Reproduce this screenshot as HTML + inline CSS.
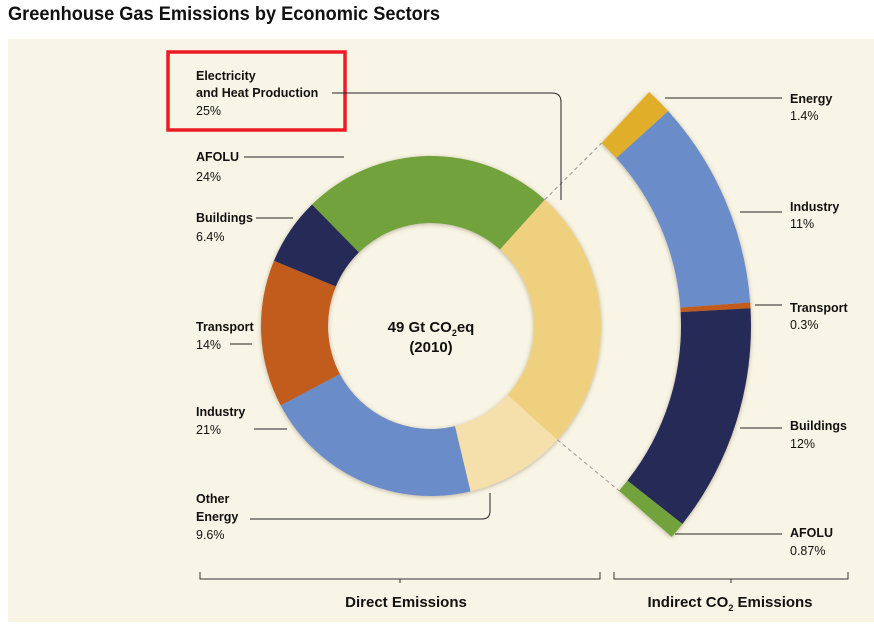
<!DOCTYPE html>
<html><head><meta charset="utf-8">
<style>
html,body{margin:0;padding:0;background:#fff;}
body{width:874px;height:622px;overflow:hidden;font-family:"Liberation Sans",sans-serif;}
svg text{font-family:"Liberation Sans",sans-serif;fill:#111;}
.lb{font-size:12.5px;font-weight:bold;}
.pc{font-size:12.5px;}
</style></head>
<body>
<svg id="chart" width="874" height="622" viewBox="0 0 874 622" xmlns="http://www.w3.org/2000/svg">
<defs>
<filter id="sh" x="-10%" y="-10%" width="120%" height="120%"><feDropShadow dx="0" dy="1" stdDeviation="2.5" flood-color="#6b5a3a" flood-opacity="0.45"/></filter>
</defs>
<text x="8" y="20" textLength="432" lengthAdjust="spacingAndGlyphs" style="font-size:19px;font-weight:bold;">Greenhouse Gas Emissions by Economic Sectors</text>
<rect x="8" y="39" width="866" height="583" fill="#f9f5e6"/>
<rect x="168" y="52" width="177" height="78" fill="none" stroke="#ed1c24" stroke-width="3.5"/>
<g id="donut" filter="url(#sh)"></g>
<g id="arc" filter="url(#sh)"></g>
<g id="labels" stroke="#222" stroke-width="1" fill="none"></g>
<text x="431" y="332" text-anchor="middle" style="font-size:15px;font-weight:bold;">49 Gt CO<tspan dy="4" style="font-size:9px">2</tspan><tspan dy="-4">eq</tspan></text>
<text x="431" y="352" text-anchor="middle" style="font-size:15px;font-weight:bold;">(2010)</text>
<g stroke="#333" fill="none" stroke-width="1">
<path d="M200 572 V579 H600 V572 M400 579 V583"/>
</g>
<g stroke="#333" fill="none" stroke-width="1">
<path d="M614 572 V579 H848 V572 M731 579 V583"/>
</g>
<text x="406" y="607" text-anchor="middle" style="font-size:15px;font-weight:bold;">Direct Emissions</text>
<text x="730" y="607" text-anchor="middle" style="font-size:15px;font-weight:bold;">Indirect CO<tspan dy="4" style="font-size:9px">2</tspan><tspan dy="-4"> Emissions</tspan></text>
</svg>
<script>
const directNames=["Electricity and Heat Production","Other Energy","Industry","Transport","Buildings","AFOLU"];
const directValues=[25,9.6,21,14,6.4,24];
const directColors=["#efd07e","#f5e0ab","#6b8dca","#c25b1c","#252b57","#72a23a"];
const indirectNames=["Energy","Industry","Transport","Buildings","AFOLU"];
const indirectValues=[1.4,11,0.3,12,0.87];
const indirectColors=["#e1ae2a","#6b8dca","#c25b1c","#252b57","#72a23a"];
const NS="http://www.w3.org/2000/svg";
const cx=431,cy=326,R=170,r=103,R2=320,r2=250,start=42;
const degPerPct=360/directValues.reduce((a,b)=>a+b,0);
const indDegPerPct=3.45;
function pt(rad,deg){const a=deg*Math.PI/180;return [cx+rad*Math.sin(a),cy-rad*Math.cos(a)];}
function seg(ro,ri,a0,a1){const p1=pt(ro,a0),p2=pt(ro,a1),p3=pt(ri,a1),p4=pt(ri,a0);const L=(a1-a0)>180?1:0;
return `M${p1[0]},${p1[1]} A${ro},${ro} 0 ${L} 1 ${p2[0]},${p2[1]} L${p3[0]},${p3[1]} A${ri},${ri} 0 ${L} 0 ${p4[0]},${p4[1]}Z`;}
const dg=document.getElementById('donut');
let a=start;
directValues.forEach((v,i)=>{const a1=a+v*degPerPct;const p=document.createElementNS(NS,'path');
p.setAttribute('d',seg(R,r,a,a1));p.setAttribute('fill',directColors[i]);


dg.appendChild(p);a=a1;});
const elecEnd=start+directValues[0]*degPerPct;
const ag=document.getElementById('arc');
const aStart=43;
let b=aStart;
indirectValues.forEach((v,i)=>{const b1=b+v*indDegPerPct;const p=document.createElementNS(NS,'path');
p.setAttribute('d',seg(R2,r2,b,b1));p.setAttribute('fill',indirectColors[i]);


ag.appendChild(p);b=b1;});
const lg=document.getElementById('labels');
function line(d,dash){const p=document.createElementNS(NS,'path');p.setAttribute('d',d);if(dash){p.setAttribute('stroke-dasharray','4,3');p.setAttribute('stroke','#999');}


lg.appendChild(p);}
let q1=pt(R,start),q2=pt(r2,aStart);line(`M${q1[0]},${q1[1]} L${q2[0]},${q2[1]}`,true);
q1=pt(R,elecEnd);q2=pt(r2,b);line(`M${q1[0]},${q1[1]} L${q2[0]},${q2[1]}`,true);
line("M332 93 H552 Q561 93 561 102 V200");
line("M244 157 H344");
line("M256 218 H293");
line("M230 344 H252");
line("M254 429 H287");
line("M250 519 H482 Q490 519 490 511 V493");
line("M665 98 H782");line("M740 212 H782");line("M755 305 H782");line("M740 428 H782");line("M675 534 H782");
function txt(x,y,s,cls,name){const t=document.createElementNS(NS,'text');t.setAttribute('x',x);t.setAttribute('y',y);t.setAttribute('class',cls);t.textContent=s;


document.getElementById('chart').appendChild(t);}
const L=[[196,80,"Electricity","lb"],[196,97,"and Heat Production","lb"],[196,115,"25%","pc"],
[196,161,"AFOLU","lb"],[196,181,"24%","pc"],[196,222,"Buildings","lb"],[196,241,"6.4%","pc"],
[196,331,"Transport","lb"],[196,349,"14%","pc"],[196,416,"Industry","lb"],[196,434,"21%","pc"],
[196,503,"Other","lb"],[196,521,"Energy","lb"],[196,539,"9.6%","pc"],
[790,103,"Energy","lb"],[790,120,"1.4%","pc"],[790,211,"Industry","lb"],[790,228,"11%","pc"],
[790,312,"Transport","lb"],[790,329,"0.3%","pc"],[790,430,"Buildings","lb"],[790,448,"12%","pc"],
[790,537,"AFOLU","lb"],[790,555,"0.87%","pc"]];
L.forEach(l=>txt(l[0],l[1],l[2],l[3],'label-'+l[2].toLowerCase().replace(/[^a-z0-9]+/g,'-')));
</script>
</body></html>
